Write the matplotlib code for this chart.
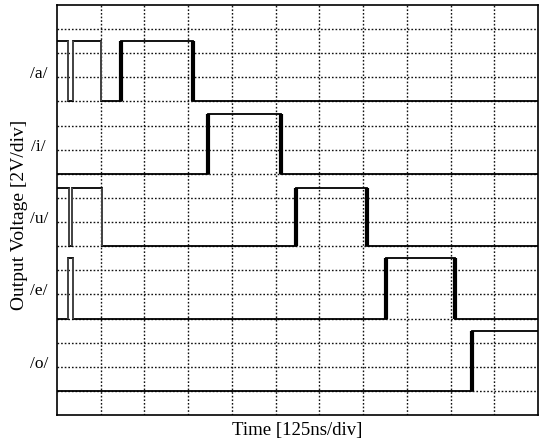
import matplotlib
matplotlib.use("Agg")
import matplotlib.pyplot as plt
import numpy as np

plt.rcParams["font.family"] = ["Liberation Serif", "DejaVu Serif"]

# 125 ns per horizontal division, 2 V per vertical division
NS_PER_DIV = 125
V_PER_DIV = 2
N_XDIV = 11
N_YDIV = 17

channels = ["/a/", "/i/", "/u/", "/e/", "/o/"]
offsets = [26, 20, 14, 8, 2]          # baseline of each trace [V]
high_level = [5.0, 5.0, 4.8, 5.0, 5.0]
start_high = [True, False, True, False, False]
# switching instants of every trace [ns]
edges = [
    [31, 46, 126, 183, 389],
    [433, 639],
    [34, 43, 129, 683, 887],
    [31, 46, 940, 1138],
    [1186],
]

t_end = N_XDIV * NS_PER_DIV


def step_trace(ts, high, first_high):
    x, y = [0.0], [high if first_high else 0.0]
    level = first_high
    for t in ts:
        x += [t, t]
        y += [y[-1], 0.0 if level else high]
        level = not level
    x.append(t_end)
    y.append(y[-1])
    return np.array(x), np.array(y)


fig = plt.figure(figsize=(5.41, 4.47), dpi=100)
ax = fig.add_axes([57 / 541, 1 - 415 / 447, 481 / 541, 410 / 447])

# dotted graticule
for i in range(1, N_XDIV):
    ax.axvline(i * NS_PER_DIV, color="#111111", lw=1.0, ls=(0, (1.2, 1.4)), zorder=1)
for j in range(1, N_YDIV):
    ax.axhline(j * V_PER_DIV, color="#111111", lw=1.0, ls=(0, (1.2, 1.4)), zorder=1)

for name, off, hi, sh, ts in zip(channels, offsets, high_level, start_high, edges):
    x, y = step_trace(ts, hi, sh)
    ax.plot(x, y + off, color="black", lw=1.3, zorder=3, solid_joinstyle="miter")
    # vertical edges drawn heavier, as the scope smears them
    for t in ts:
        early = t < 150
        ax.plot([t, t], [off, off + hi], color="#555555" if early else "black",
                lw=1.1 if early else 3.0, zorder=4, solid_capstyle="butt")
    ax.text(-0.038, off + 2.25, name, transform=ax.get_yaxis_transform(),
            ha="center", va="center", fontsize=12.5)

ax.set_xlim(0, t_end)
ax.set_ylim(0, N_YDIV * V_PER_DIV)
ax.set_xticks([])
ax.set_yticks([])
for s in ax.spines.values():
    s.set_linewidth(1.2)
    s.set_color("black")

fig.text(20 / 541, 1 - 215 / 447, "Output Voltage [2V/div]", rotation=90,
         ha="center", va="center", fontsize=14)
fig.text(297 / 541, 1 - 431 / 447, "Time [125ns/div]", ha="center", va="center",
         fontsize=13.5)

fig.savefig("out.png", dpi=100)
